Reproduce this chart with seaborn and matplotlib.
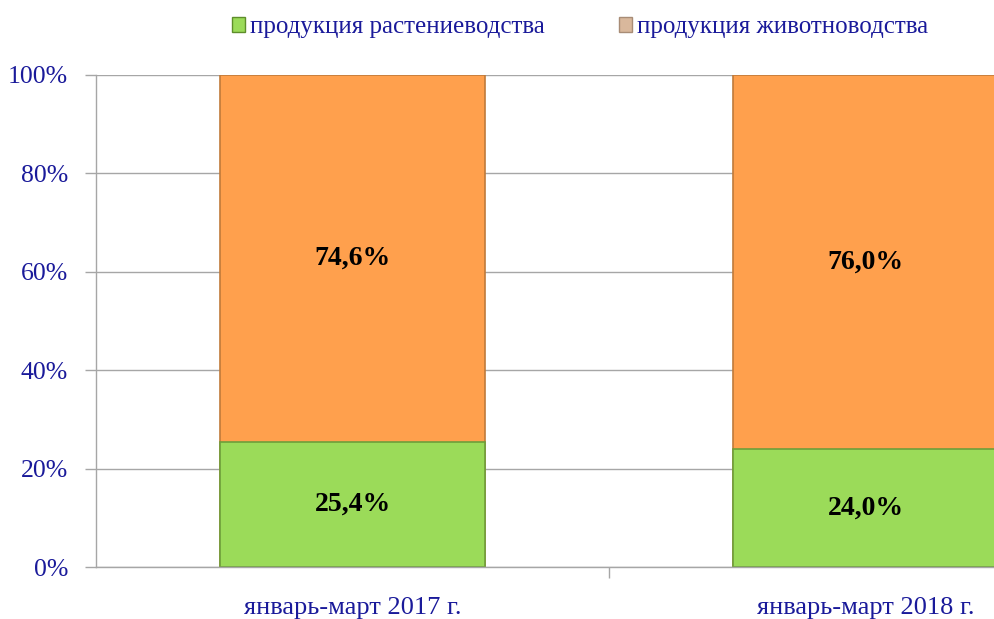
import seaborn as sns
import matplotlib.pyplot as plt
import matplotlib.patches as mpatches
import pandas as pd

periods = ['январь-март 2017 г.', 'январь-март 2018 г.']
crop_share = [25.4, 24.0]
livestock_share = [74.6, 76.0]
series_names = ['продукция растениеводства', 'продукция животноводства']

df = pd.DataFrame({'period': periods, 'crop': crop_share, 'livestock': livestock_share})
df['total'] = df['crop'] + df['livestock']

sns.set_style('white')
plt.rcParams['font.family'] = ['Liberation Serif', 'DejaVu Serif']

fig = plt.figure(figsize=(9.95, 6.19), dpi=100)
ax = fig.add_axes([0.0965, 0.084, 1.0315, 0.795])

green = '#9BDB59'
orange = '#FFA04D'
navy = '#1A1A9A'

# stacked: draw the full bar in orange, then the green part over it
sns.barplot(data=df, x='period', y='total', color=orange, width=0.516,
            saturation=1, edgecolor='#C07A3A', linewidth=1.2, ax=ax)
sns.barplot(data=df, x='period', y='crop', color=green, width=0.516,
            saturation=1, edgecolor='#6E9E3A', linewidth=1.2, ax=ax)

for i, row in df.iterrows():
    ax.text(i, row['crop'] / 2, f"{row['crop']:.1f}%".replace('.', ','),
            ha='center', va='center', fontsize=20, fontweight='bold', color='black')
    ax.text(i, row['crop'] + row['livestock'] / 2,
            f"{row['livestock']:.1f}%".replace('.', ','),
            ha='center', va='center', fontsize=20, fontweight='bold', color='black')

ax.set_xlim(-0.5, 1.5)
ax.set_ylim(0, 100)
ax.set_yticks([0, 20, 40, 60, 80, 100])
ax.set_yticklabels([f'{v}%' for v in range(0, 101, 20)])
ax.yaxis.grid(True, color='#A6A6A6', linewidth=1)
ax.set_axisbelow(True)
ax.set_xlabel('')
ax.set_ylabel('')

for side in ['top', 'right']:
    ax.spines[side].set_visible(False)
for side in ['left', 'bottom']:
    ax.spines[side].set_color('#A6A6A6')
    ax.spines[side].set_linewidth(1)

ax.tick_params(axis='y', left=True, length=8, width=1, color='#A6A6A6',
               labelsize=18.5, labelcolor=navy, pad=12)
ax.tick_params(axis='x', bottom=False, labelsize=19, labelcolor=navy, pad=18)
ax.set_xticks([0.5], minor=True)
ax.tick_params(axis='x', which='minor', bottom=True, length=8, width=1, color='#A6A6A6')

handles = [mpatches.Patch(facecolor=green, edgecolor='#5E8E2A', label=series_names[0]),
           mpatches.Patch(facecolor='#D9B89C', edgecolor='#A88C76', label=series_names[1])]
leg = fig.legend(handles=handles, loc='upper center', bbox_to_anchor=(0.583, 1.01),
                 ncol=2, frameon=False, fontsize=18, handlelength=0.5, handleheight=0.5,
                 handletextpad=0.2, columnspacing=3)
for t in leg.get_texts():
    t.set_color(navy)

fig.savefig('out.png', dpi=100)
